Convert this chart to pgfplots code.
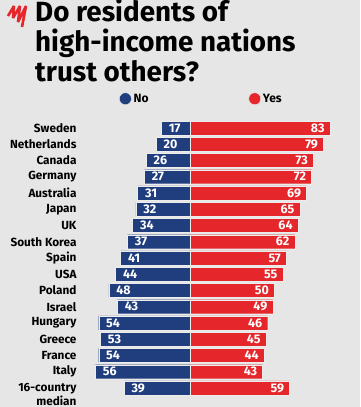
\documentclass[border=0pt]{standalone}
\usepackage{pgfplots}
\pgfplotsset{compat=1.18}
\usepackage{pgfplotstable}
\usepackage{fontspec}
\setmainfont{Fira Sans}
\definecolor{bg}{HTML}{E6E6E6}
\definecolor{navy}{HTML}{203D7E}
\definecolor{sbsred}{HTML}{E5262A}
\pgfplotstableread{
y no yes
0 17 83
1 20 79
2 26 73
3 27 72
4 31 69
5 32 65
6 34 64
7 37 62
8 41 57
9 44 55
10 48 50
11 43 49
12 54 46
13 53 45
14 54 44
15 56 43
16 39 59
}\data
\begin{document}
\begin{tikzpicture}
\useasboundingbox (0,0) rectangle (360pt,407pt);
\fill[bg] (0,0) rectangle (360pt,407pt);
\begin{scope}[x=1pt,y=-1pt,yshift=407pt]
\draw[sbsred, line width=2.6pt, line join=miter, miter limit=3]
  (8,16) -- (14,6) -- (13,18) -- (20,6) -- (18,22) -- (26,6) -- (22,27);
\node[anchor=base west, inner sep=0, font=\fontsize{27.8}{30}\selectfont\bfseries] at (35,22) {Do residents of};
\node[anchor=base west, inner sep=0, font=\fontsize{27.8}{30}\selectfont\bfseries] at (35,52) {high-income nations};
\node[anchor=base west, inner sep=0, font=\fontsize{27.8}{30}\selectfont\bfseries] at (35,82) {trust others?};
\end{scope}
\begin{axis}[
  at={(0,0)}, anchor=south west,
  width=360pt, height=407pt, scale only axis,
  xmin=-112.4, xmax=100.6,
  ymin=-7.877, ymax=17.17,
  y dir=reverse,
  xbar, bar width=14pt,
  axis line style={draw=none},
  xtick=\empty,
  ytick={0,...,15,16.4},
  yticklabels={Sweden,Netherlands,Canada,Germany,Australia,Japan,UK,South Korea,Spain,USA,Poland,Israel,Hungary,Greece,France,Italy,{16-country\\median}},
  yticklabel style={anchor=east, xshift=80pt, align=right, font=\fontsize{11.8}{13.5}\selectfont\bfseries},
  major tick length=0pt,
  point meta=explicit,
  /pgf/number format/assume math mode=true,
  legend columns=2,
  legend style={at={(axis cs:-42,-1.8)}, anchor=west, draw=none, fill=none, inner sep=0pt,
    font=\fontsize{12}{13}\selectfont\bfseries,
    /tikz/every even column/.append style={column sep=98pt}},
  legend image code/.code={\fill (0pt,0pt) circle (6pt);},
]
\addplot[fill=navy, draw=white!85!gray, line width=0.4pt, bar shift=0pt,
  nodes near coords, nodes near coords style={anchor=west, xshift=4pt, text=white, font=\fontsize{12.5}{13}\selectfont\bfseries}]
  table[x expr=-\thisrow{no}, y=y, meta=no] {\data};
\addlegendentry{No}
\addplot[fill=sbsred, draw=white!85!gray, line width=0.4pt, bar shift=0pt,
  nodes near coords, nodes near coords style={anchor=east, xshift=-2pt, text=white, font=\fontsize{12.5}{13}\selectfont\bfseries}]
  table[x=yes, y=y, meta=yes] {\data};
\addlegendentry{Yes}
\end{axis}
\end{tikzpicture}
\end{document}
